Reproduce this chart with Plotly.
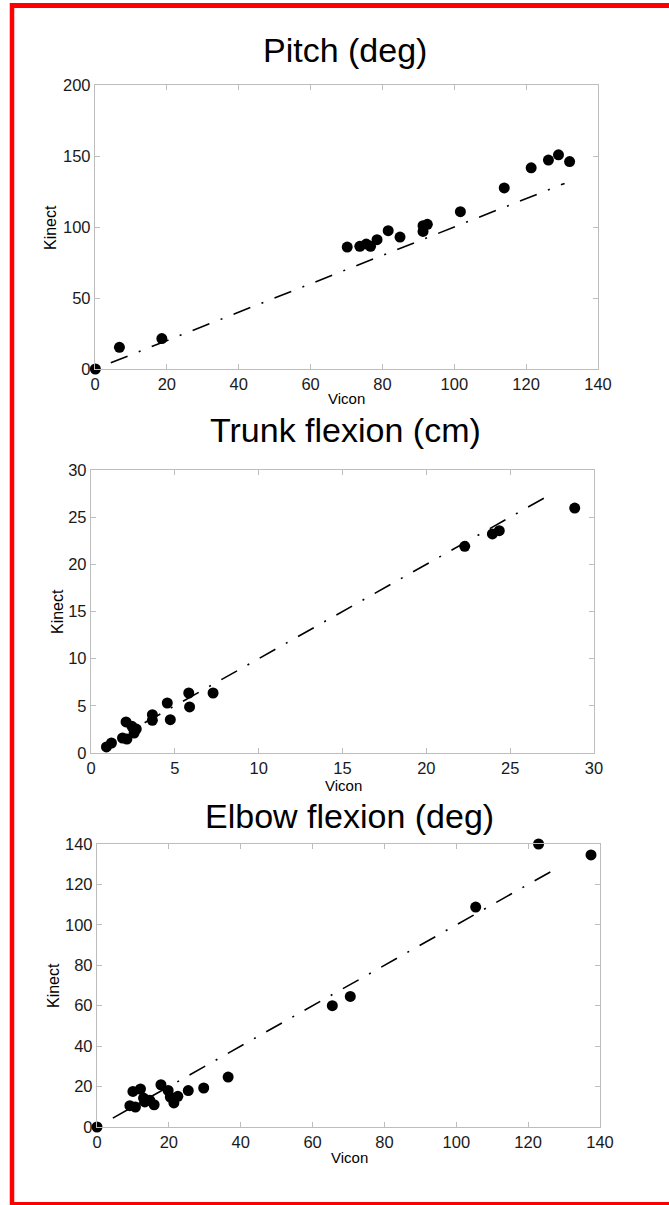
import plotly.graph_objects as go

W, H = 669, 1205

# ---------------- data ----------------
pitch_vicon = [0.1, 6.8, 18.6, 70.2, 73.7, 75.5, 76.7, 78.5, 81.6, 84.9, 91.3, 91.3, 92.5, 101.7, 113.9, 121.4, 126.2, 129.0, 132.1]
pitch_kinect = [0.0, 15.3, 21.4, 85.9, 86.4, 88.0, 86.4, 91.1, 97.4, 92.9, 96.9, 100.9, 101.9, 110.8, 127.5, 141.7, 147.1, 150.8, 146.1]
pitch_fit_x = [4.4, 130.7]
pitch_fit_y = [4.4, 130.7]

trunk_vicon = [0.92, 1.22, 2.09, 1.88, 2.14, 2.44, 2.70, 2.57, 3.66, 3.66, 4.55, 4.73, 5.83, 5.88, 7.28, 22.29, 23.94, 24.35, 28.85]
trunk_kinect = [0.64, 1.06, 3.29, 1.59, 1.48, 2.83, 2.54, 2.12, 4.06, 3.46, 5.30, 3.53, 6.36, 4.88, 6.36, 21.91, 23.22, 23.57, 25.97]
trunk_fit_x = [3.2, 27.6]
trunk_fit_y = [3.2, 27.6]

elbow_vicon = [0.0, 9.15, 10.7, 10.0, 12.1, 12.95, 13.3, 14.7, 15.9, 17.8, 19.8, 20.4, 21.4, 22.5, 25.4, 29.7, 36.5, 65.5, 70.5, 105.4, 122.9, 137.5]
elbow_kinect = [0.0, 10.55, 9.9, 17.6, 18.8, 14.3, 12.4, 13.2, 11.0, 20.9, 18.1, 14.8, 11.9, 15.2, 18.0, 19.3, 24.7, 60.0, 64.6, 108.8, 140.0, 134.6]
elbow_fit_x = [4.4, 128.0]
elbow_fit_y = [4.4, 128.0]

titles = ["Pitch (deg)", "Trunk flexion (cm)", "Elbow flexion (deg)"]
x_ranges = [[0, 140], [0, 30], [0, 140]]
y_ranges = [[0, 200], [0, 30], [0, 140]]
x_dticks = [20, 5, 20]
y_dticks = [50, 5, 20]

# ---------------- layout (pixels) ----------------
boxes = [(95, 598, 85, 369), (91, 594, 470, 753), (97, 600, 844, 1127)]
title_pos = [(345, 50), (345, 430), (349, 816)]
ytitle_pos = [(50, 228), (57, 612), (53, 986)]
xtitle_pos = [(346, 399), (343, 785), (349, 1157)]


def fx(px):
    return px / W


def fy(py):
    return 1 - py / H


FONT = "Liberation Sans, Arial, sans-serif"
fig = go.Figure()

series = [
    (pitch_vicon, pitch_kinect, pitch_fit_x, pitch_fit_y),
    (trunk_vicon, trunk_kinect, trunk_fit_x, trunk_fit_y),
    (elbow_vicon, elbow_kinect, elbow_fit_x, elbow_fit_y),
]

annotations = []
for i, (vx, ky, lx, ly) in enumerate(series):
    n = "" if i == 0 else str(i + 1)
    fig.add_trace(go.Scatter(x=lx, y=ly, mode="lines",
                             line=dict(color="black", width=1.6, dash="18px,12px,2px,12px"),
                             xaxis="x" + n, yaxis="y" + n, showlegend=False,
                             hoverinfo="skip", cliponaxis=False))
    fig.add_trace(go.Scatter(x=vx, y=ky, mode="markers",
                             marker=dict(color="black", size=11),
                             xaxis="x" + n, yaxis="y" + n, showlegend=False,
                             cliponaxis=False))
    l, r, t, b = boxes[i]
    common = dict(showgrid=False, zeroline=False, showline=True, linecolor="#bdbdbd",
                  linewidth=1.3, mirror="ticks", ticks="inside", ticklen=5,
                  tickcolor="#bdbdbd", tickwidth=1, automargin=False,
                  tickfont=dict(family=FONT, size=16.5, color="#1a1a1a"))
    fig.update_layout(**{
        "xaxis" + n: dict(domain=[fx(l), fx(r)], range=x_ranges[i], dtick=x_dticks[i],
                          tick0=0, anchor="y" + n, **common),
        "yaxis" + n: dict(domain=[fy(b), fy(t)], range=y_ranges[i], dtick=y_dticks[i],
                          tick0=0, anchor="x" + n, **common),
    })
    tx, ty = title_pos[i]
    annotations.append(dict(text=titles[i], x=fx(tx), y=fy(ty), xref="paper", yref="paper",
                            xanchor="center", yanchor="middle", showarrow=False,
                            font=dict(family=FONT, size=34, color="black")))
    ax_, ay_ = ytitle_pos[i]
    annotations.append(dict(text="Kinect", x=fx(ax_), y=fy(ay_), xref="paper", yref="paper",
                            xanchor="center", yanchor="middle", showarrow=False, textangle=-90,
                            font=dict(family=FONT, size=16, color="black")))
    bx, by = xtitle_pos[i]
    annotations.append(dict(text="Vicon", x=fx(bx), y=fy(by), xref="paper", yref="paper",
                            xanchor="center", yanchor="middle", showarrow=False,
                            font=dict(family=FONT, size=15, color="black")))

shapes = [
    dict(type="line", xref="paper", yref="paper", x0=fx(12), x1=fx(12), y0=fy(3), y1=fy(1205),
         line=dict(color="#ff0000", width=4.5)),
    dict(type="line", xref="paper", yref="paper", x0=fx(10), x1=fx(669), y0=fy(5.5), y1=fy(5.5),
         line=dict(color="#ff0000", width=5)),
    dict(type="line", xref="paper", yref="paper", x0=fx(10), x1=fx(669), y0=fy(1203.5), y1=fy(1203.5),
         line=dict(color="#ff0000", width=3)),
]

fig.update_layout(template="none", width=W, height=H,
                  margin=dict(l=0, r=0, t=0, b=0, pad=0, autoexpand=False),
                  paper_bgcolor="white", plot_bgcolor="white",
                  annotations=annotations, shapes=shapes, showlegend=False)

fig.write_html("out.html", config={"displayModeBar": False},
               post_script="document.body.style.margin='0';document.body.style.overflow='hidden';")
